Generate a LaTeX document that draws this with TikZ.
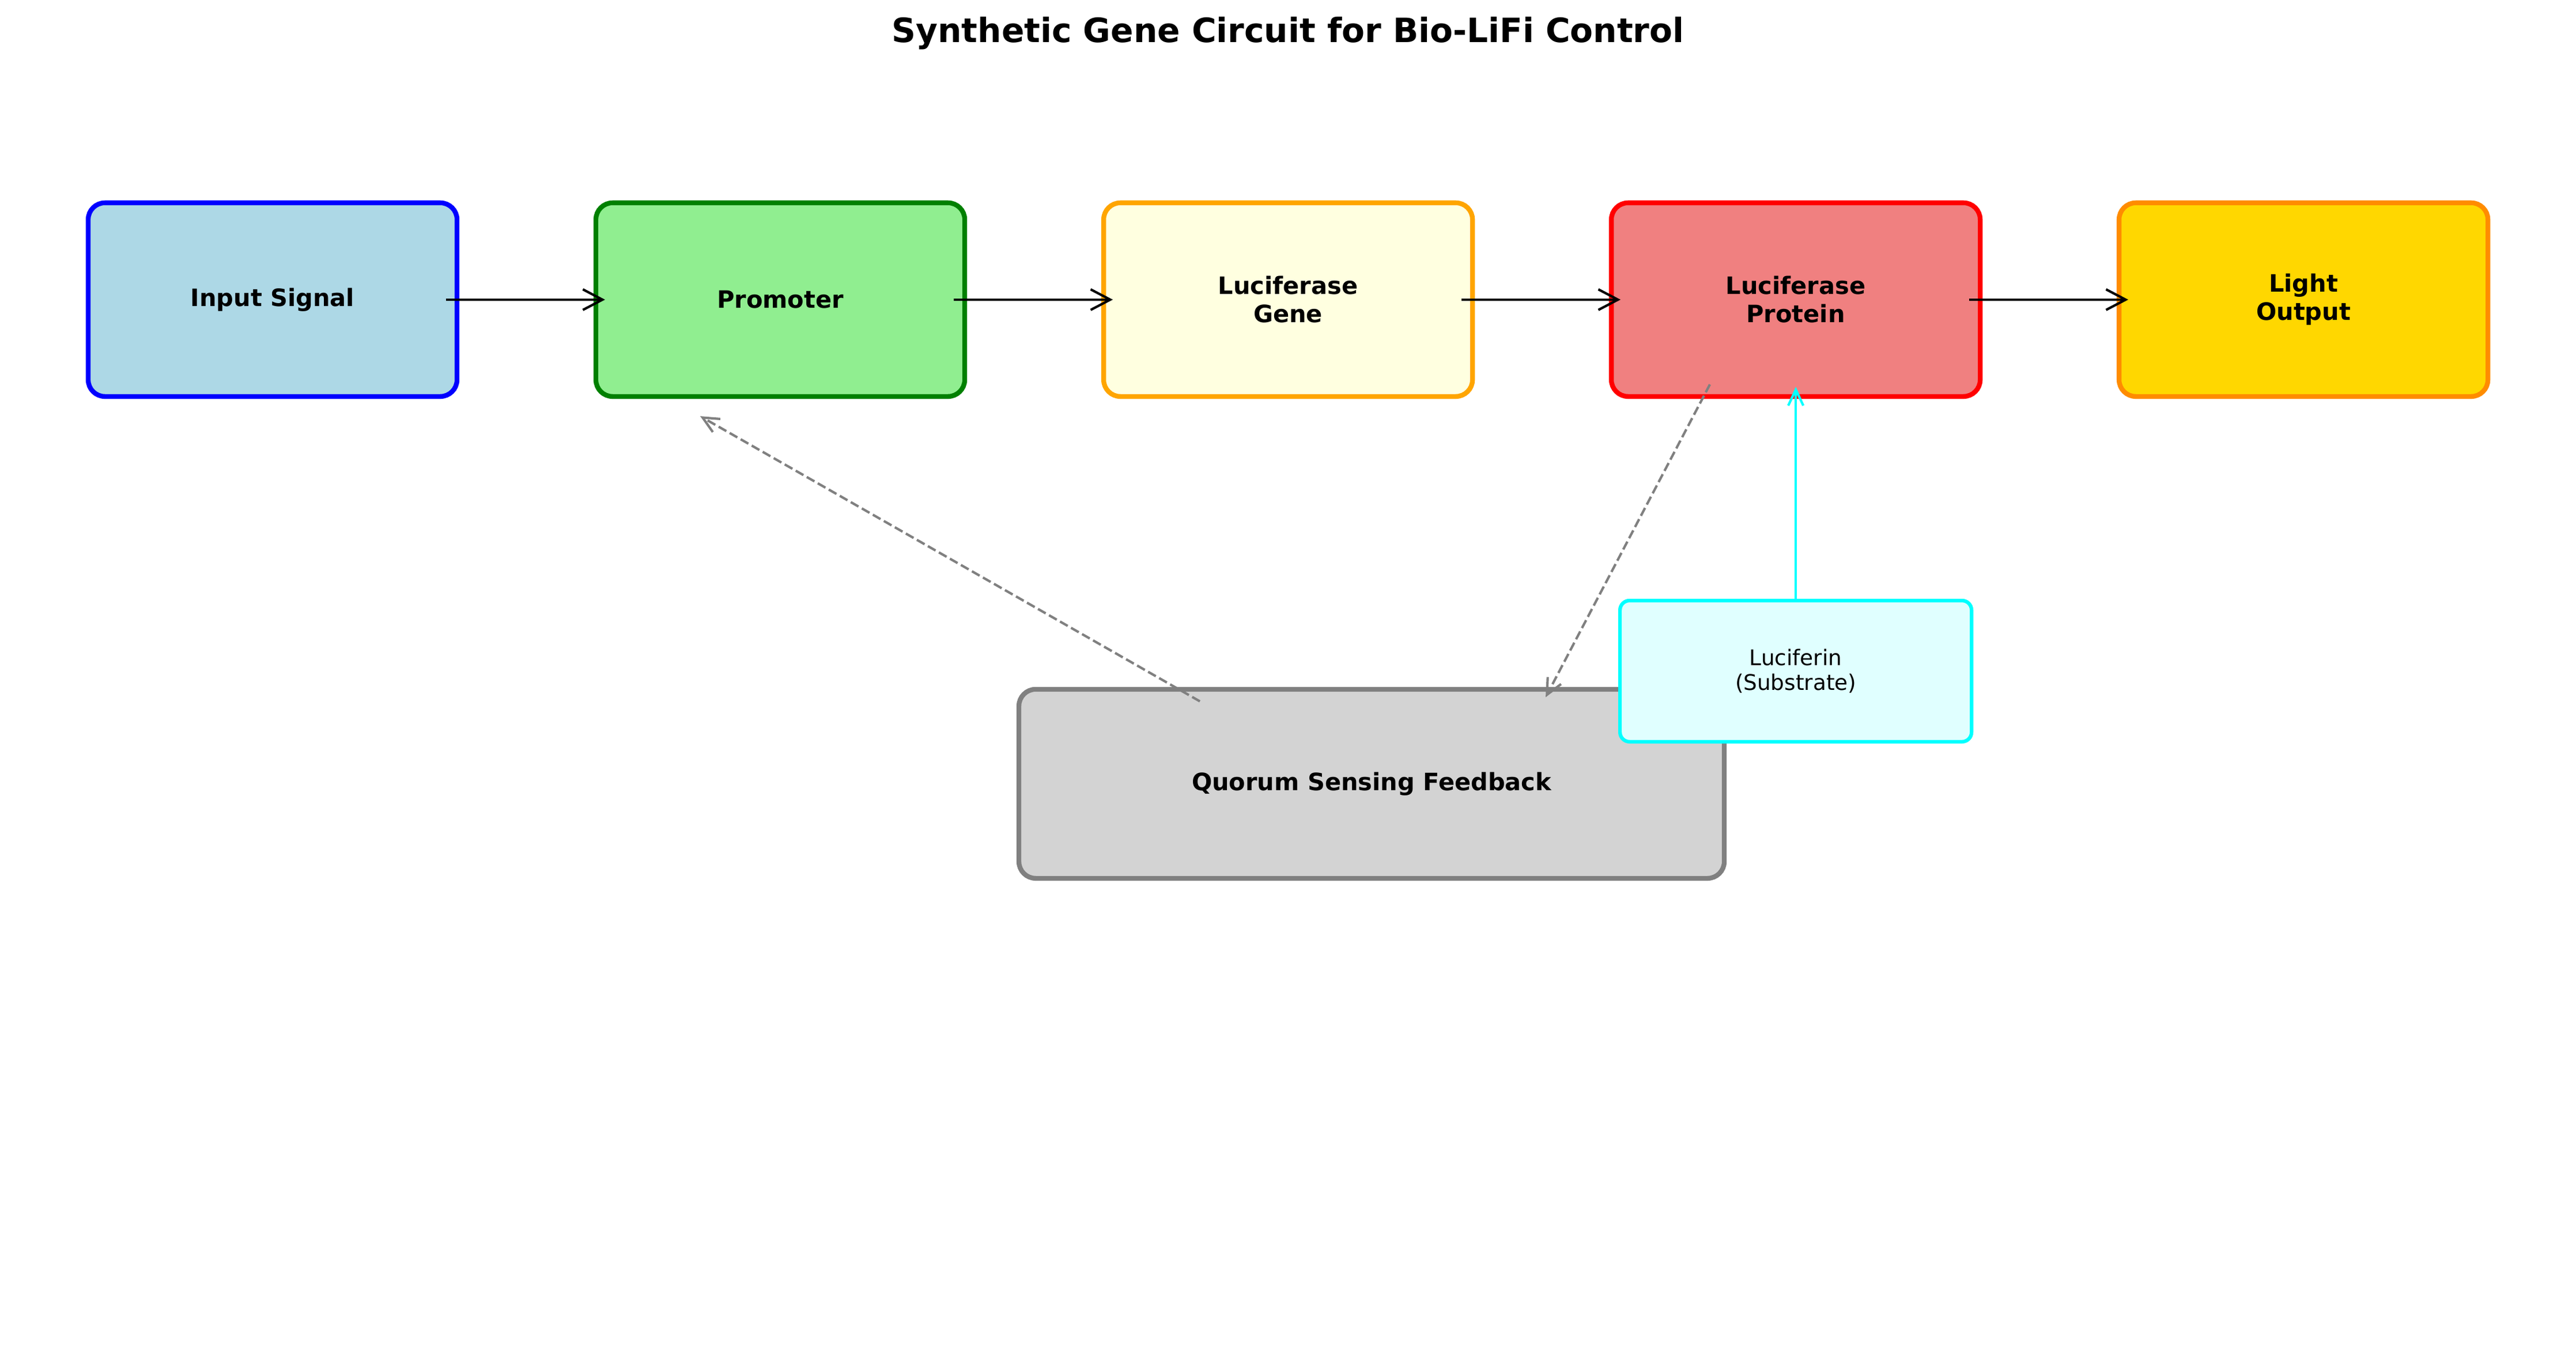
\documentclass[tikz,border=0pt]{standalone}
\usepackage{fontspec}
\setmainfont{DejaVu Sans}
\usetikzlibrary{arrows.meta}

\definecolor{inputfill}{HTML}{ADD8E6}
\definecolor{promfill}{HTML}{90EE90}
\definecolor{promline}{HTML}{008000}
\definecolor{genefill}{HTML}{FFFFE0}
\definecolor{geneline}{HTML}{FFA500}
\definecolor{protfill}{HTML}{F08080}
\definecolor{lightfill}{HTML}{FFD700}
\definecolor{lightline}{HTML}{FF8C00}
\definecolor{qsfill}{HTML}{D3D3D3}
\definecolor{qsline}{HTML}{808080}
\definecolor{subfill}{HTML}{E0FFFF}
\definecolor{subline}{HTML}{00FFFF}

\begin{document}
\begin{tikzpicture}[
  stage/.style={draw, line width=2pt, rounded corners=7pt, minimum width=5.419cm, minimum height=2.845cm, align=center, font=\fontsize{10}{11.8}\selectfont\bfseries},
  flow/.style={line width=1pt, -{Straight Barb[length=8.2pt,width=8.6pt]}},
  feedback/.style={qsline, line width=1pt, dash pattern=on 3.7pt off 1.6pt, -{Straight Barb[length=6.7pt,width=6.3pt]}}
]
\useasboundingbox (0, 0) rectangle (37.846, 20.066);

\node (title) at (18.924, 19.440) [anchor=base, font=\fontsize{14}{16.8}\selectfont\bfseries] {Synthetic Gene Circuit for Bio-LiFi Control};

\node (input) at (4.005, 15.664) [stage, fill=inputfill, draw=blue] {Input Signal};
\node (promoter) at (11.464, 15.664) [stage, fill=promfill, draw=promline] {Promoter};
\node (gene) at (18.924, 15.664) [stage, fill=genefill, draw=geneline] {Luciferase\\Gene};
\node (protein) at (26.383, 15.664) [stage, fill=protfill, draw=red] {Luciferase\\Protein};
\node (light) at (33.842, 15.664) [stage, fill=lightfill, draw=lightline] {Light\\Output};

\node (quorum) at (20.151, 8.552) [stage, fill=qsfill, draw=qsline, minimum width=10.363cm, minimum height=2.777cm] {Quorum Sensing Feedback};
\node (luciferin) at (26.383, 10.207) [draw=subline, fill=subfill, line width=1.5pt, rounded corners=4pt, minimum width=5.165cm, minimum height=2.074cm, align=center, font=\fontsize{9}{10.5}\selectfont] {Luciferin\\(Substrate)};

\draw[flow] ([xshift=-0.2cm]input.east) -- ([xshift=0.17cm]promoter.west);
\draw[flow] ([xshift=-0.2cm]promoter.east) -- ([xshift=0.17cm]gene.west);
\draw[flow] ([xshift=-0.2cm]gene.east) -- ([xshift=0.17cm]protein.west);
\draw[flow] ([xshift=-0.2cm]protein.east) -- ([xshift=0.17cm]light.west);

\draw[feedback] ([xshift=-2.523cm, yshift=-0.212cm]quorum.north) -- ([xshift=-1.177cm, yshift=-0.254cm]promoter.south);
\draw[feedback] ([xshift=-1.262cm, yshift=0.212cm]protein.south) -- ([xshift=2.557cm, yshift=-0.152cm]quorum.north);
\draw[subline, line width=1pt, -{Straight Barb[length=6.7pt,width=6.3pt]}] ([yshift=-0.042cm]luciferin.north) -- ([yshift=0.178cm]protein.south);

\end{tikzpicture}
\end{document}
